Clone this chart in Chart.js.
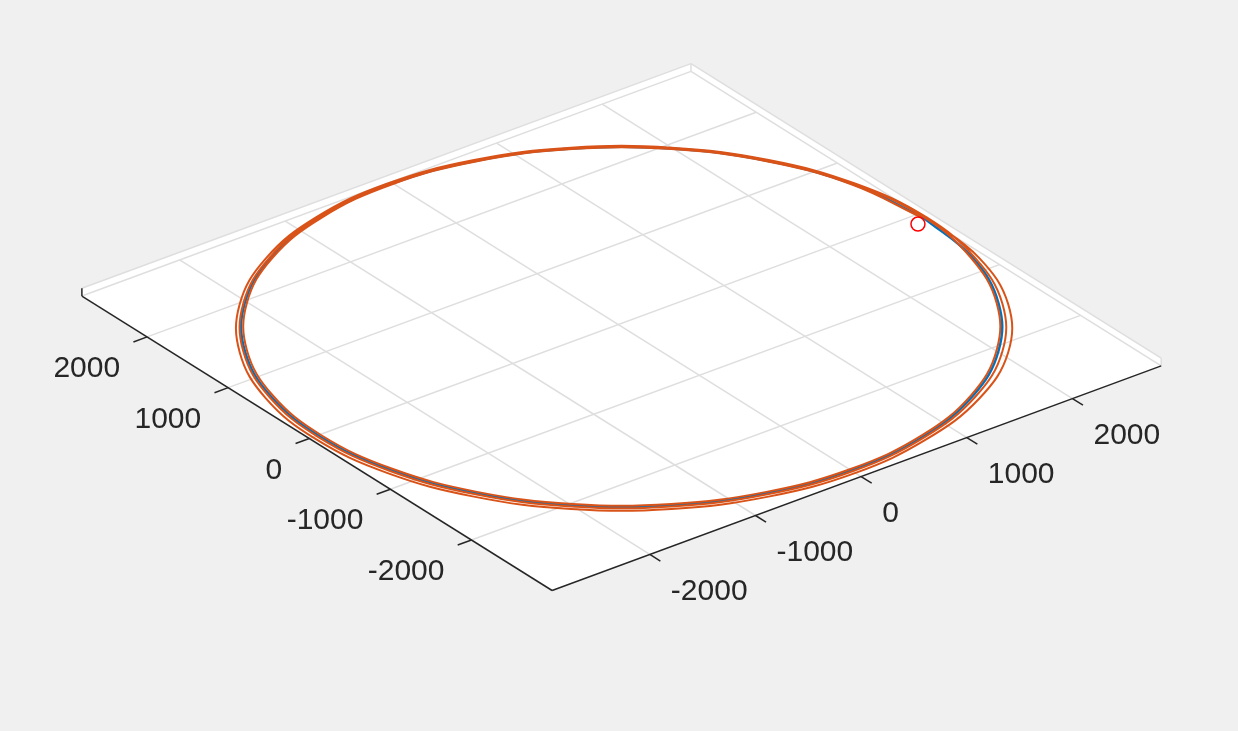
<!DOCTYPE html>
<html>
<head>
<meta charset="utf-8">
<title>Orbit</title>
<script src="https://cdn.jsdelivr.net/npm/chart.js@4.4.1/dist/chart.umd.min.js"></script>
<style>
  html, body { margin: 0; padding: 0; background: #f0f0f0; }
  #wrap { width: 1238px; height: 731px; position: relative; }
</style>
</head>
<body>
<div id="wrap"><canvas id="orbitChart"></canvas></div>
<script>
const xLimits = [-2925, 2840];
const yLimits = [-2995, 2805];
const zLimits = [0, 70];
const xTicks = [-2000, -1000, 0, 1000, 2000];
const yTicks = [-2000, -1000, 0, 1000, 2000];
const xTickLabels = ['-2000', '-1000', '0', '1000', '2000'];
const yTickLabels = ['-2000', '-1000', '0', '1000', '2000'];

// reference orbit (blue), one revolution
const refX = [2835, 2733, 2444, 1989, 1398, 711, -25, -759, -1442, -2026, -2473, -2752,
              -2843, -2741, -2452, -1997, -1406, -719, 17, 751, 1434, 2018, 2465, 2744, 2835];
const refY = [-67, 666, 1350, 1939, 2392, 2680, 2782, 2691, 2413, 1969, 1386, 706,
              -25, -758, -1442, -2031, -2484, -2772, -2874, -2783, -2505, -2061, -1478, -798, -67];

// propagated orbit (orange), three revolutions drifting outwards
const propX = [2825, 2723, 2436, 1983, 1395, 712, -20, -750, -1429, -2010, -2455, -2732,
               -2823, -2721, -2434, -1981, -1393, -710, 22, 752, 1431, 2012, 2457, 2734,
               2840, 2737, 2448, 1991, 1398, 709, -30, -767, -1452, -2038, -2487, -2766,
               -2858, -2755, -2466, -2009, -1416, -727, 12, 749, 1439, 2034, 2486, 2758,
               2855, 2752, 2460, 1999, 1400, 705, -40, -783, -1474, -2066, -2519, -2801,
               -2893, -2790, -2498, -2037, -1438, -743, 2, 745, 1446, 2056, 2516, 2782, 2855];
const propY = [-62, 667, 1347, 1933, 2385, 2670, 2772, 2681, 2406, 1963, 1383, 707,
               -20, -749, -1429, -2015, -2467, -2752, -2854, -2763, -2488, -2045, -1465, -789,
               -72, 664, 1350, 1941, 2396, 2684, 2787, 2695, 2417, 1971, 1386, 704,
               -30, -766, -1452, -2043, -2498, -2786, -2889, -2797, -2528, -2087, -1498, -809,
               -82, 660, 1352, 1949, 2408, 2698, 2802, 2709, 2429, 1979, 1388, 700,
               -40, -782, -1474, -2071, -2530, -2820, -2924, -2831, -2568, -2129, -1530, -827, -82];

// start point
const startX = [2740];
const startY = [-125];

// 3-D view (orthographic, like view(-37.5, 30))
const viewAz = 37.5 * Math.PI / 180;
const viewEl = 30 * Math.PI / 180;

function project(x, y, z) {
  const ca = Math.cos(viewAz), sa = Math.sin(viewAz);
  return {
    x: x * ca - y * sa,
    y: Math.sin(viewEl) * (x * sa + y * ca) + Math.cos(viewEl) * (z || 0)
  };
}

const toPoints = (xs, ys) => xs.map((x, i) => project(x, ys[i], 0));

const axisColor = '#262626';
const gridColor = '#dedede';
const tickFont  = '30px "Liberation Sans", Arial, sans-serif';

const floorPlugin = {
  id: 'floor',
  beforeDatasetsDraw(chart) {
    const ctx = chart.ctx;
    const sx = chart.scales.x, sy = chart.scales.y;
    const pix = (x, y, z) => {
      const p = project(x, y, z === undefined ? zLimits[0] : z);
      return [sx.getPixelForValue(p.x), sy.getPixelForValue(p.y)];
    };
    const seg = (a, b) => {
      ctx.beginPath();
      ctx.moveTo(a[0], a[1]);
      ctx.lineTo(b[0], b[1]);
      ctx.stroke();
    };
    const [x0, x1] = xLimits, [y0, y1] = yLimits, [z0, z1] = zLimits;
    const tickLen = 130;

    ctx.save();
    // back walls (very shallow) and floor
    ctx.fillStyle = '#ffffff';
    ctx.beginPath();
    [[x0, y1, z0], [x0, y1, z1], [x1, y1, z1], [x1, y0, z1], [x1, y0, z0], [x0, y0, z0]].forEach(([a, b, c], i) => {
      const [X, Y] = pix(a, b, c);
      if (i) ctx.lineTo(X, Y); else ctx.moveTo(X, Y);
    });
    ctx.closePath();
    ctx.fill();

    // grid + back edges
    ctx.strokeStyle = gridColor;
    ctx.lineWidth = 1.5;
    xTicks.forEach(t => seg(pix(t, y0), pix(t, y1)));
    yTicks.forEach(t => seg(pix(x0, t), pix(x1, t)));
    [z0, z1].forEach(z => {
      seg(pix(x1, y0, z), pix(x1, y1, z));
      seg(pix(x0, y1, z), pix(x1, y1, z));
    });
    seg(pix(x1, y1, z0), pix(x1, y1, z1));
    seg(pix(x1, y0, z0), pix(x1, y0, z1));

    // axis lines
    ctx.strokeStyle = axisColor;
    ctx.lineWidth = 1.5;
    seg(pix(x0, y0), pix(x1, y0));
    seg(pix(x0, y0), pix(x0, y1));
    seg(pix(x0, y1, z0), pix(x0, y1, z1));

    // ticks and labels
    ctx.font = tickFont;
    ctx.fillStyle = axisColor;
    ctx.textBaseline = 'middle';
    xTicks.forEach((t, i) => {
      const a = pix(t, y0);
      seg(a, pix(t, y0 - tickLen));
      ctx.textAlign = 'left';
      ctx.fillText(xTickLabels[i], a[0] + 21, a[1] + 37);
    });
    yTicks.forEach((t, i) => {
      const a = pix(x0, t);
      seg(a, pix(x0 - tickLen, t));
      ctx.textAlign = 'right';
      ctx.fillText(yTickLabels[i], a[0] - 27, a[1] + 32);
    });
    ctx.restore();
  }
};

new Chart(document.getElementById('orbitChart'), {
  type: 'scatter',
  data: {
    datasets: [
      {
        label: 'start',
        data: toPoints(startX, startY),
        showLine: false,
        pointStyle: 'circle',
        pointRadius: 7,
        borderColor: '#ff0000',
        backgroundColor: 'rgba(0,0,0,0)',
        borderWidth: 1.5,
        order: 0
      },
      {
        label: 'propagated',
        data: toPoints(propX, propY),
        showLine: true,
        borderColor: '#D95319',
        borderWidth: 2,
        pointRadius: 0,
        tension: 0.4,
        order: 1
      },
      {
        label: 'reference',
        data: toPoints(refX, refY),
        showLine: true,
        borderColor: '#0072BD',
        borderWidth: 2.5,
        pointRadius: 0,
        tension: 0.4,
        order: 2
      }
    ]
  },
  options: {
    responsive: true,
    maintainAspectRatio: false,
    animation: false,
    layout: { padding: 0, autoPadding: false },
    plugins: {
      legend: { display: false },
      tooltip: { enabled: false }
    },
    scales: {
      x: { type: 'linear', min: -4643, max: 4653, display: false },
      y: { type: 'linear', min: -3176, max: 2535, display: false }
    }
  },
  plugins: [floorPlugin]
});
</script>
</body>
</html>
